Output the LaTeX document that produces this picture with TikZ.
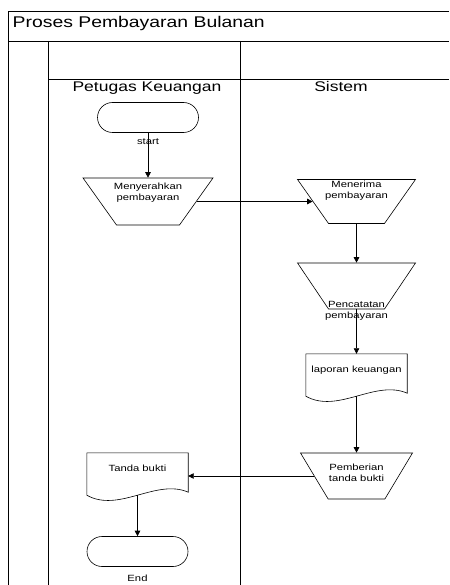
\documentclass[tikz,border=0pt]{standalone}
\usepackage{fontspec}
\setmainfont{Liberation Sans}[FakeStretch=1.25]
\usetikzlibrary{shapes.geometric,shapes.misc,arrows.meta,positioning}

\tikzset{
  lane/.style={line width=0.9pt},
  manualop/.style={draw, trapezium, shape border rotate=180, trapezium stretches,
    inner sep=2pt, line width=0.6pt},
  termbox/.style={draw, rounded rectangle, minimum width=101, minimum height=30,
    inner sep=0pt, line width=0.6pt},
  docbox/.style={minimum width=101, minimum height=42, inner sep=0pt},
  lbl/.style={font=\fontsize{9}{11}\selectfont, align=center, inner sep=0pt},
  flow/.style={-{Triangle[length=5.5pt,width=5.5pt]}, line width=0.6pt}
}

\begin{document}
\begin{tikzpicture}[x=1pt,y=-1pt]
\useasboundingbox (0,0) rectangle (449,585);
% swimlanes
\draw[lane] (449,11) -- (8,11) -- (8,585);
\draw[lane] (8,41) -- (449,41);
\draw[lane] (48,41) -- (48,585);
\draw[lane] (240,41) -- (240,585);
\draw[lane] (48,79) -- (449,79);
\node[anchor=base west, inner sep=0pt, font=\fontsize{15.5}{18}\selectfont] (title) at (12.5,28) {Proses Pembayaran Bulanan};
\node[anchor=base, inner sep=0pt, font=\fontsize{14}{16}\selectfont] (petugas) at (147,92) {Petugas Keuangan};
\node[anchor=base, inner sep=0pt, font=\fontsize{14}{16}\selectfont] (sistem) at (341,92) {Sistem};

% petugas keuangan
\node[termbox] (start) at (148,117.5) {};
\node[lbl] (startlbl) at (148,142) {start};
\node[manualop, trapezium angle=62, minimum width=130, minimum height=47] (serah) at (148,201.5) {};
\node[lbl] (serahtxt) at ([yshift=9pt]serah.center) {Menyerahkan\\pembayaran};

% sistem
\node[manualop, trapezium angle=61, minimum width=118, minimum height=44] (terima) at (356.5,201.5) {};
\node[lbl] (terimatxt) at ([yshift=11pt]terima.center) {Menerima\\pembayaran};
\node[manualop, trapezium angle=61, minimum width=118, minimum height=46] (catat) at (356.5,286) {};
\node[lbl] (catattxt) at ([yshift=-25pt]catat.center) {Pencatatan\\pembayaran};
\node[docbox] (laporan) at (356.5,375) {};
\node[lbl] (laporantxt) at ([yshift=5pt]laporan.center) {laporan keuangan};
\node[manualop, trapezium angle=64, minimum width=112, minimum height=46] (beri) at (356.5,476) {};
\node[lbl] (beritxt) at ([yshift=3pt]beri.center) {Pemberian\\tanda bukti};

% kembali ke petugas
\node[docbox] (bukti) at (137.5,474) {};
\node[lbl] (buktitxt) at ([yshift=6pt]bukti.center) {Tanda bukti};
\node[termbox] (end) at (137.5,551.5) {};
\node[lbl] (endlbl) at (137.5,578) {End};

% document outlines
\foreach \d in {laporan,bukti}
  \draw[line width=0.6pt] (\d.south west) -- (\d.north west) -- (\d.north east)
    -- ([yshift=3pt]\d.south east) .. controls +(-32,-14) and +(32,18) .. (\d.south west);

% flows
\draw[flow] (start) -- (serah);
\draw[flow] (serah.east) -- (terima.west);
\draw[flow] (terima) -- (catat);
\draw[flow] (catat) -- (laporan);
\draw[flow] (laporan) -- (beri);
\draw[flow] (beri.west) -- (beri.west -| bukti.east);
\draw[flow] (bukti) -- (end);
\end{tikzpicture}
\end{document}
